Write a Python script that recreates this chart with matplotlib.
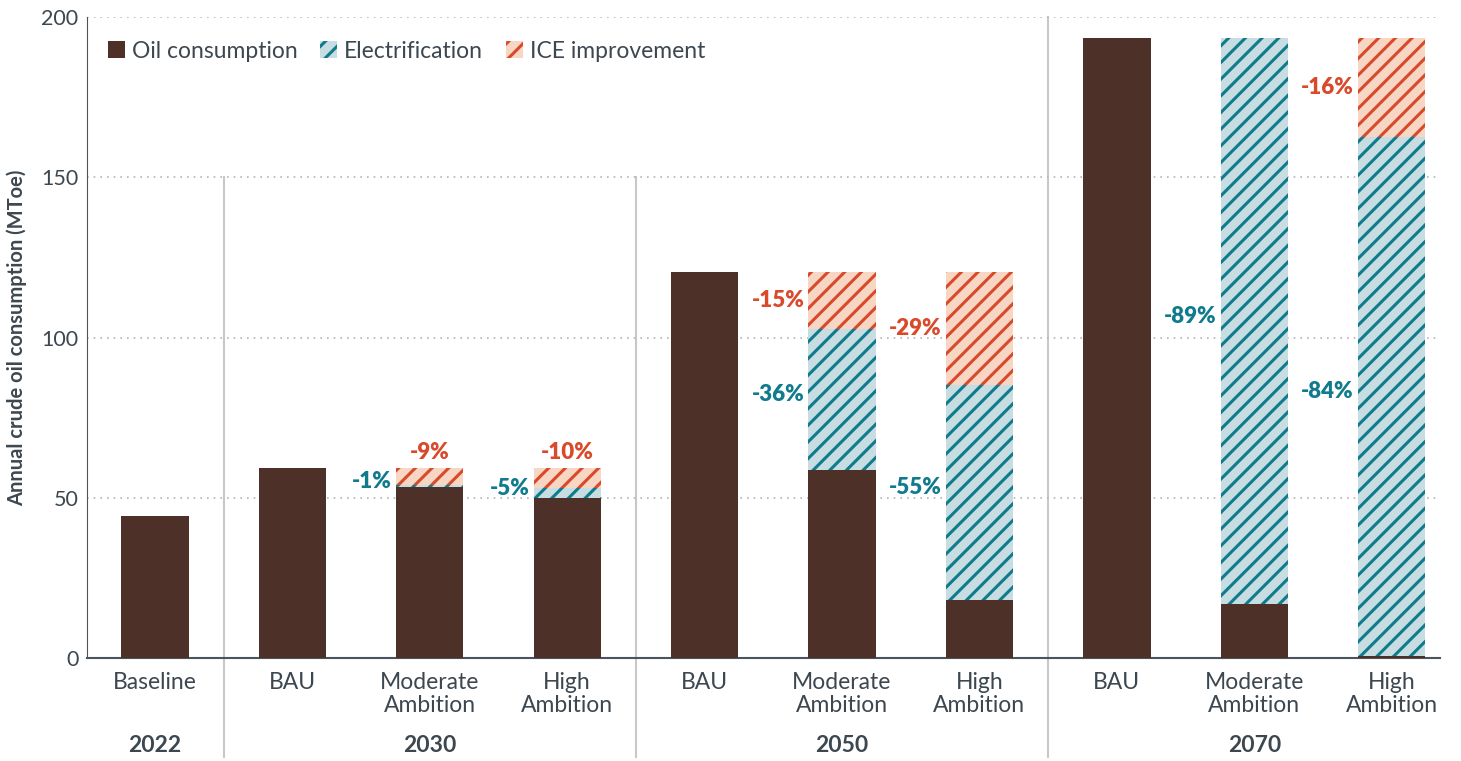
import matplotlib
matplotlib.use('Agg')
import matplotlib.pyplot as plt
from matplotlib.patches import Patch

plt.rcParams['font.family'] = ['Lato', 'DejaVu Sans']
plt.rcParams['hatch.linewidth'] = 2.2

# scenario bars, left to right
categories = ['Baseline', 'BAU', 'Moderate\nAmbition', 'High\nAmbition',
              'BAU', 'Moderate\nAmbition', 'High\nAmbition',
              'BAU', 'Moderate\nAmbition', 'High\nAmbition']
years = ['2022', '2030', '2050', '2070']
year_centers = [0, 2, 5, 8]

# MToe stacked segments
oil = [44.3, 59.3, 53.4, 49.9, 120.4, 58.7, 18.1, 193.4, 16.8, 0.5]
elec = [0, 0, 0.6, 3.1, 0, 43.9, 67.1, 0, 176.6, 162.1]
ice = [0, 0, 5.3, 6.3, 0, 17.8, 35.2, 0, 0, 30.8]

elec_labels = [None, None, '-1%', '-5%', None, '-36%', '-55%', None, '-89%', '-84%']
ice_labels = [None, None, '-9%', '-10%', None, '-15%', '-29%', None, None, '-16%']

OIL = '#4d3128'
TEAL = '#0f7b8c'
TEAL_BG = '#c7dde2'
ORANGE = '#d94a2b'
ORANGE_BG = '#f7d6c3'
TEXT = '#3d4750'

fig = plt.figure(figsize=(14.61, 7.61), dpi=100)
ax = fig.add_axes([0.0595, 0.1353, 0.926, 0.8424])

x = list(range(len(categories)))
w = 0.49
elec_bottom = oil
ice_bottom = [o + e for o, e in zip(oil, elec)]

ax.bar(x, oil, w, color=OIL, linewidth=0, zorder=3)
ax.bar(x, elec, w, bottom=elec_bottom, color=TEAL_BG, edgecolor=TEAL,
       hatch='//', linewidth=0, zorder=3)
ax.bar(x, ice, w, bottom=ice_bottom, color=ORANGE_BG, edgecolor=ORANGE,
       hatch='//', linewidth=0, zorder=3)

# percent labels
for i in x:
    if elec_labels[i]:
        ax.text(i - w / 2 - 0.03, elec_bottom[i] + elec[i] / 2 + 1.5, elec_labels[i],
                ha='right', va='center', color=TEAL, fontsize=16, fontweight='heavy')
    if ice_labels[i]:
        if ice[i] < 10:
            ax.text(i, ice_bottom[i] + ice[i] + 1.5, ice_labels[i], ha='center',
                    va='bottom', color=ORANGE, fontsize=16, fontweight='heavy')
        else:
            ax.text(i - w / 2 - 0.03, ice_bottom[i] + ice[i] / 2, ice_labels[i],
                    ha='right', va='center', color=ORANGE, fontsize=16, fontweight='heavy')

ax.set_xlim(-0.495, 9.35)
ax.set_ylim(0, 200)
ax.set_yticks([0, 50, 100, 150, 200])
ax.set_xticks(x)
ax.set_xticklabels(categories, fontsize=16.5, color=TEXT, linespacing=1.1)
ax.tick_params(axis='both', length=0, colors=TEXT)
ax.tick_params(axis='y', labelsize=15.5, pad=6)
ax.tick_params(axis='x', pad=10)
ax.grid(axis='y', linestyle=(0, (1, 3)), color='#b5b5b5', linewidth=1.2, zorder=0)

for s in ['top', 'right']:
    ax.spines[s].set_visible(False)
ax.spines['left'].set_color('#4a545c')
ax.spines['bottom'].set_color('#4a545c')
ax.spines['bottom'].set_linewidth(1.5)

ax.set_ylabel('Annual crude oil consumption (MToe)', fontsize=14.5,
              fontweight='bold', color=TEXT, labelpad=10)

# group separators
trans = ax.get_xaxis_transform()
for xs, top in [(0.5, 0.75), (3.5, 0.75), (6.5, 1.0)]:
    ax.plot([xs, xs], [-0.155, top], transform=trans, color='#c8c8c8',
            linewidth=1.5, clip_on=False, zorder=1)

for yr, c in zip(years, year_centers):
    ax.text(c, -0.137, yr, transform=trans, ha='center', va='center',
            fontsize=16.5, fontweight='bold', color=TEXT)

handles = [Patch(facecolor=OIL, linewidth=0),
           Patch(facecolor=TEAL_BG, edgecolor=TEAL, hatch='//', linewidth=0),
           Patch(facecolor=ORANGE_BG, edgecolor=ORANGE, hatch='//', linewidth=0)]
leg = ax.legend(handles, ['Oil consumption', 'Electrification', 'ICE improvement'],
                loc='upper left', bbox_to_anchor=(0.0, 0.995), ncol=3, frameon=False,
                fontsize=16.5, handlelength=0.75, handleheight=0.75, handletextpad=0.3,
                columnspacing=1.0, labelcolor=TEXT)

fig.savefig('out.png', dpi=100)
